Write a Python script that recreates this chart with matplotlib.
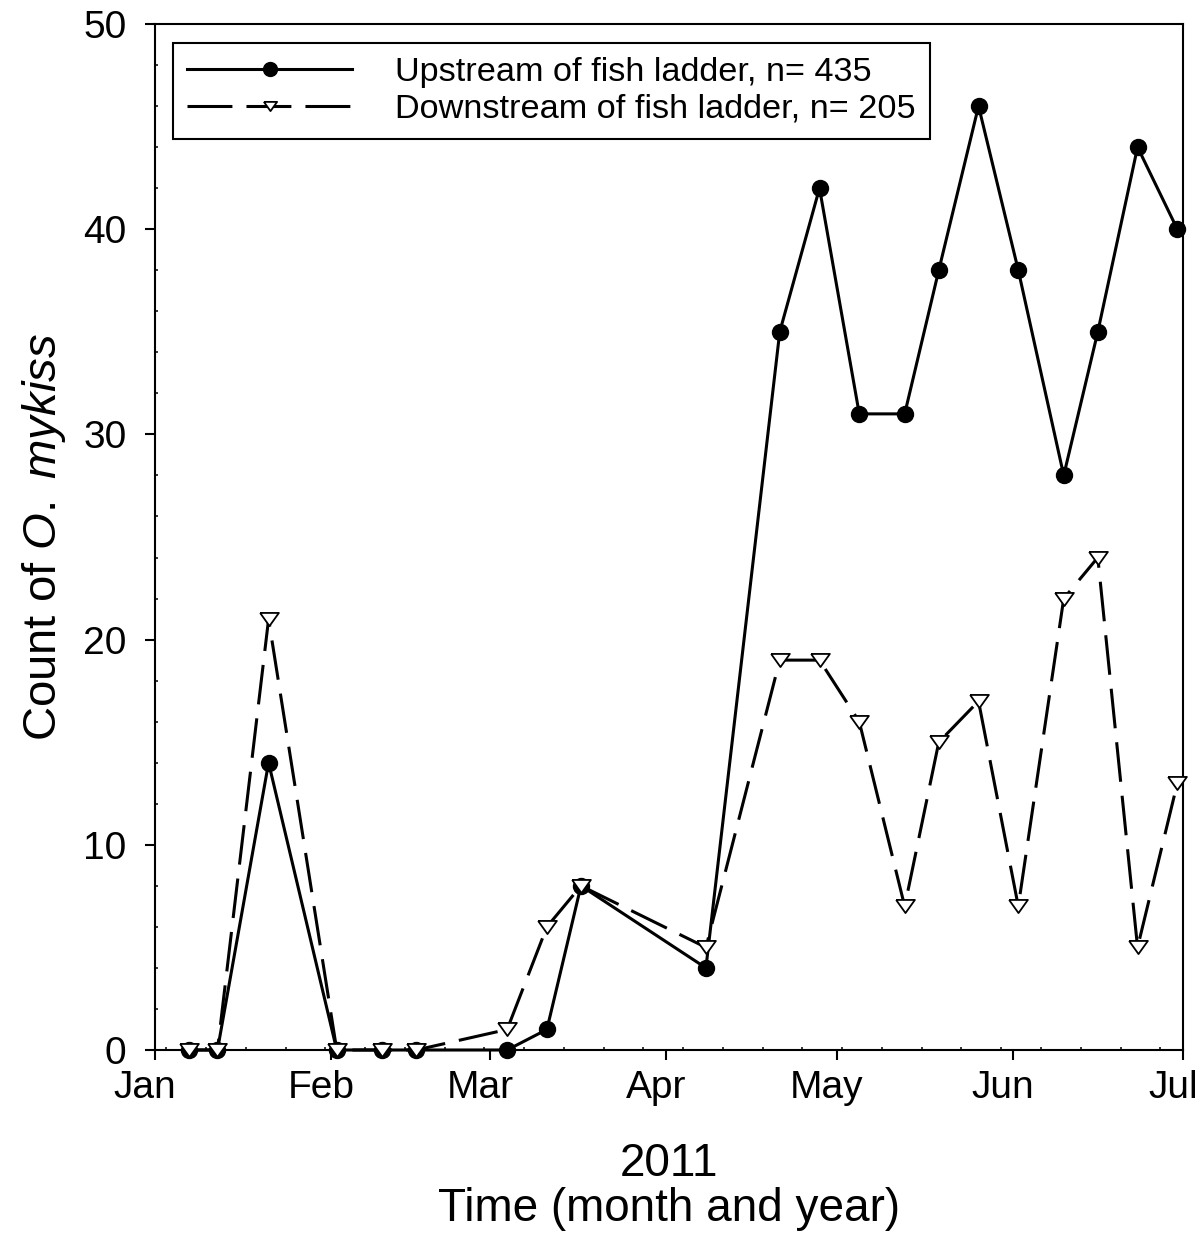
import matplotlib
matplotlib.use('Agg')
import matplotlib.pyplot as plt
import matplotlib.dates as mdates
from matplotlib.transforms import ScaledTranslation
import pandas as pd

plt.rcParams['font.family'] = ['Liberation Sans', 'DejaVu Sans']
plt.rcParams['mathtext.fontset'] = 'custom'
plt.rcParams['mathtext.it'] = 'Liberation Sans:italic'
plt.rcParams['mathtext.rm'] = 'Liberation Sans'

# ---- data ----
dates = pd.to_datetime([
    '2011-01-07', '2011-01-12', '2011-01-21', '2011-02-02', '2011-02-10',
    '2011-02-16', '2011-03-04', '2011-03-11', '2011-03-17', '2011-04-08',
    '2011-04-21', '2011-04-28', '2011-05-05', '2011-05-13', '2011-05-19',
    '2011-05-26', '2011-06-02', '2011-06-10', '2011-06-16', '2011-06-23',
    '2011-06-30'])
upstream = [0, 0, 14, 0, 0, 0, 0, 1, 8, 4, 35, 42, 31, 31, 38, 46, 38, 28, 35, 44, 40]
downstream = [0, 0, 21, 0, 0, 0, 1, 6, 8, 5, 19, 19, 16, 7, 15, 17, 7, 22, 24, 5, 13]
series_labels = ['Upstream of fish ladder, n= 435', 'Downstream of fish ladder, n= 205']
month_ticks = pd.to_datetime(['2011-01-01', '2011-02-01', '2011-03-01', '2011-04-01',
                              '2011-05-01', '2011-06-01', '2011-07-01'])
month_labels = ['Jan', 'Feb', 'Mar', 'Apr', 'May', 'Jun', 'Jul']
y_ticks = [0, 10, 20, 30, 40, 50]

W, H = 1204, 1253
fig = plt.figure(figsize=(W / 100, H / 100), dpi=100)
ax = fig.add_axes([155 / W, (H - 1050) / H, 1028 / W, 1026 / H])

tri = [(-1, 0.7), (1, 0.7), (0, -0.7), (-1, 0.7)]

ax.plot(dates, upstream, color='black', lw=2.2, marker='o', ms=11.5,
        mfc='black', mec='black', clip_on=False, zorder=3, label=series_labels[0])
ax.plot(dates, downstream, color='black', lw=2.2, linestyle=(0, (13, 4.6)),
        marker=tri, ms=13.5, mfc='white', mec='black', mew=1.3,
        clip_on=False, zorder=4, label=series_labels[1])

ax.set_xlim(month_ticks[0], month_ticks[-1])
ax.set_ylim(0, 50)
ax.set_xticks(month_ticks)
ax.set_xticklabels(month_labels)
ax.xaxis.set_minor_locator(mdates.WeekdayLocator(byweekday=mdates.MO))
ax.set_yticks(y_ticks)
ax.set_yticks(range(0, 51, 2), minor=True)

for s in ax.spines.values():
    s.set_linewidth(1.5)
ax.tick_params(which='major', direction='out', length=7.5, width=1.5, colors='black')
ax.tick_params(axis='x', which='major', labelsize=28, pad=7)
ax.tick_params(axis='y', which='major', labelsize=28, pad=13)
ax.tick_params(which='minor', direction='in', length=2.5, width=1.1)

offset = ScaledTranslation(-10 / 100, 0, fig.dpi_scale_trans)
for lab in ax.get_xticklabels():
    lab.set_transform(lab.get_transform() + offset)

ax.set_ylabel('Count of $\\mathit{O.\\ mykiss}$', fontsize=34)
ax.yaxis.set_label_coords(-0.085, 0.5)

fig.text(669 / W, 1 - 1176 / H, '2011', ha='center', va='baseline', fontsize=33)
fig.text(669 / W, 1 - 1221 / H, 'Time (month and year)', ha='center', va='baseline', fontsize=33)

leg = ax.legend(loc='upper left', bbox_to_anchor=(173 / W, 1 - 43 / H),
                bbox_transform=fig.transFigure, borderaxespad=0,
                fontsize=24.7, handlelength=4.8, handletextpad=1.26,
                borderpad=0.42, labelspacing=0.15, fancybox=False,
                edgecolor='black', framealpha=1)
leg.get_frame().set_linewidth(1.5)
leg.legend_handles[0].set_markersize(10)
leg.legend_handles[1].set_markersize(9.5)
leg.legend_handles[1].set_linestyle((0, (14.7, 4.6)))

fig.savefig('out.png', dpi=100)
